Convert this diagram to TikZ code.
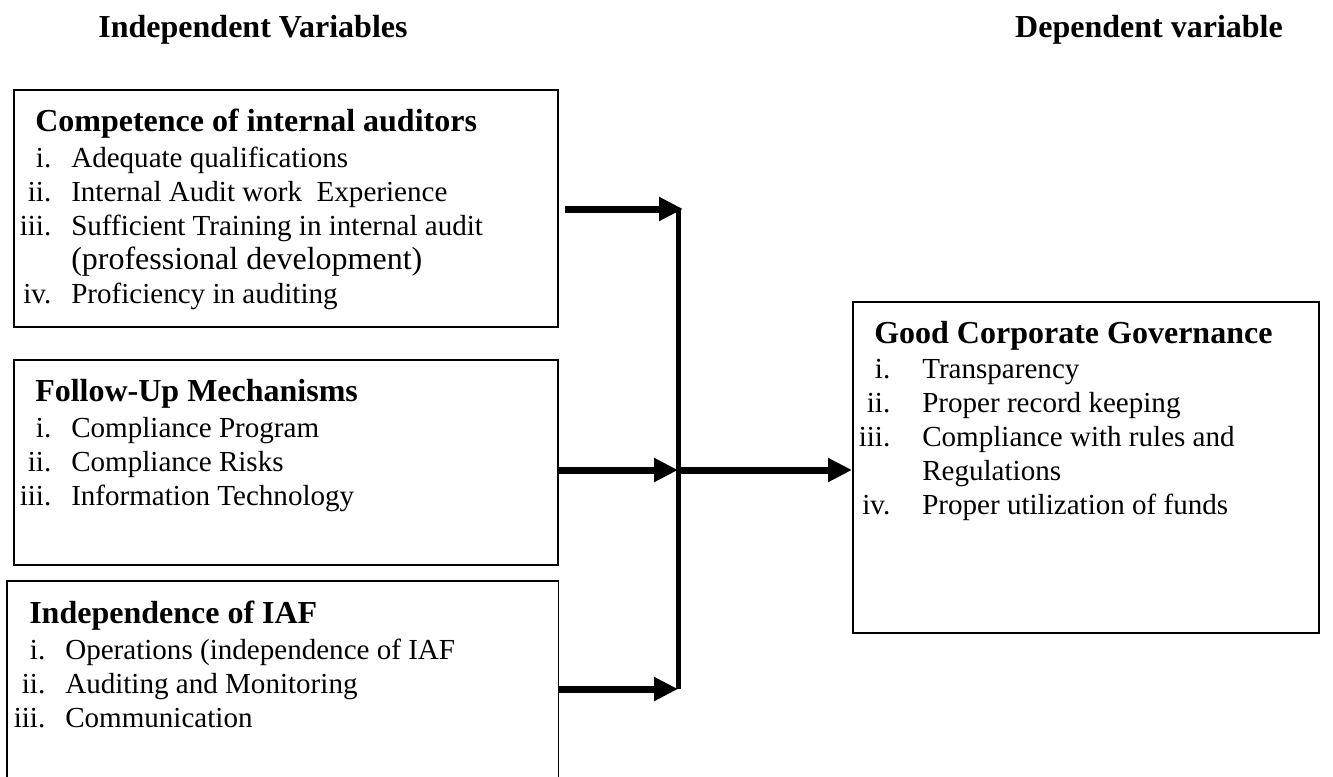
\documentclass[tikz,border=0pt]{standalone}
\usepackage{fontspec}
\setmainfont{Liberation Serif}
\usetikzlibrary{positioning,arrows.meta}
\newlength\pxu \setlength\pxu{0.75pt}
\newlength\numw \setlength\numw{16\pxu}
\newlength\numgap \setlength\numgap{20\pxu}
\newcommand{\itm}[2]{\makebox[\numw][r]{#1}\hspace{\numgap}#2}
\newcommand{\ttl}[1]{{\fontsize{24pt}{25.5pt}\selectfont\bfseries #1}}

\begin{document}
\begin{tikzpicture}[x=0.75pt,y=-0.75pt,
  box/.style={draw,line width=1.2pt,minimum width=544\pxu,minimum height=237\pxu,anchor=north west,inner sep=0pt},
  txt/.style={anchor=base west,inner sep=0pt,font=\fontsize{21.8pt}{25.5pt}\selectfont},
  head/.style={anchor=base,inner sep=0pt,font=\fontsize{24pt}{28pt}\selectfont\bfseries},
  a/.style={-{Triangle[length=18pt,width=17pt]},line width=5.25pt},
  bus/.style={line width=3.75pt}]
  \useasboundingbox (0,0) rectangle (1333,776);

  \node[head] (indep) at (253,37) {Independent Variables};
  \node[head] (dep) at (1149,37) {Dependent variable};

  % independent variables
  \node[box] (comp) at (13,89) {};
  \node[box,minimum height=205\pxu] (follow) at (13,359) {};
  \node[box,draw=none,minimum width=550\pxu,minimum height=195\pxu] (iaf) at (7,581) {};
  \draw[line width=1.2pt] (iaf.south west) |- (iaf.north east) -- (iaf.south east);

  % dependent variable
  \node[box,minimum width=466\pxu,minimum height=331\pxu] (gcg) at (852,301) {};

  \node[txt] (compTxt) at ([xshift=22\pxu,yshift=-42\pxu]comp.north west) {\begin{tabular}[t]{@{}l@{}}
    \ttl{Competence of internal auditors}\\[1.5pt]
    \itm{i.}{Adequate qualifications}\\
    \itm{ii.}{Internal Audit work\ \ Experience}\\
    \itm{iii.}{Sufficient Training in internal audit}\\
    \itm{}{\fontsize{24pt}{25.5pt}\selectfont(professional development)}\\
    \itm{iv.}{Proficiency in auditing}
  \end{tabular}};
  \node[txt] (followTxt) at ([xshift=22\pxu,yshift=-42\pxu]follow.north west) {\begin{tabular}[t]{@{}l@{}}
    \ttl{Follow-Up Mechanisms}\\[1.5pt]
    \itm{i.}{Compliance Program}\\
    \itm{ii.}{Compliance Risks}\\
    \itm{iii.}{Information Technology}
  \end{tabular}};
  \node[txt] (iafTxt) at ([xshift=22\pxu,yshift=-42\pxu]iaf.north west) {\begin{tabular}[t]{@{}l@{}}
    \ttl{Independence of IAF}\\[1.5pt]
    \itm{i.}{Operations (independence of IAF}\\
    \itm{ii.}{Auditing and Monitoring}\\
    \itm{iii.}{Communication}
  \end{tabular}};
  \node[txt] (gcgTxt) at ([xshift=22\pxu,yshift=-42\pxu]gcg.north west) {\setlength\numgap{32\pxu}\begin{tabular}[t]{@{}l@{}}
    \ttl{Good Corporate Governance}\\[1pt]
    \itm{i.}{Transparency}\\
    \itm{ii.}{Proper record keeping}\\
    \itm{iii.}{Compliance with rules and}\\
    \itm{}{Regulations}\\
    \itm{iv.}{Proper utilization of funds}
  \end{tabular}};

  % connectors
  \coordinate (jt) at (678,209);
  \coordinate (jm) at (678,470);
  \coordinate (jb) at (678,689);
  \draw[bus] (jt) -- (jb);
  \draw[a] ([xshift=6\pxu]comp.east |- jt) -- ([xshift=5\pxu]jt);
  \draw[a] (follow.east |- jm) -- (jm);
  \draw[a] (iaf.east |- jb) -- (jb);
  \draw[a] (jm) -- (gcg.west |- jm);
\end{tikzpicture}
\end{document}
